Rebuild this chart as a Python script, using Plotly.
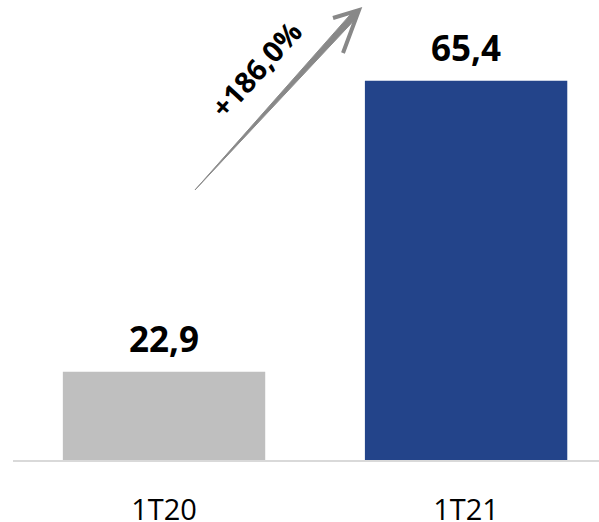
import plotly.graph_objects as go

# Quarterly values
periods = ["1T20", "1T21"]
values = [22.9, 65.4]
value_labels = ["22,9", "65,4"]
growth_label = "+186,0%"
bar_colors = ["#BFBFBF", "#23448A"]

W, H = 599, 522
M_L, M_R, M_T, M_B = 13, 0, 0, 62
PW, PH = W - M_L - M_R, H - M_T - M_B


def to_paper(px, py):
    """Convert a pixel position in the figure to paper coordinates."""
    return (px - M_L) / PW, (H - M_B - py) / PH


fig = go.Figure()
fig.add_trace(go.Bar(
    x=periods,
    y=values,
    marker=dict(color=bar_colors, line=dict(width=0)),
    width=0.67,
    hoverinfo="skip",
))

# Value labels above the bars
for p, v, t in zip(periods, values, value_labels):
    fig.add_annotation(
        x=p, y=v, xref="x", yref="y", text=f"<b>{t}</b>",
        showarrow=False, yanchor="bottom", yshift=8,
        font=dict(family="Open Sans", size=35, color="#000000"),
    )

# Growth arrow: tapered shaft plus an open head
tail = (195, 190)
tip = (359, 10)
dx, dy = tip[0] - tail[0], tip[1] - tail[1]
L = (dx ** 2 + dy ** 2) ** 0.5
ux, uy = dx / L, dy / L
nx, ny = -uy, ux
near = (tip[0] - 8 * ux, tip[1] - 8 * uy)
half = 3.4
shaft_pts = [
    tail,
    (near[0] + half * nx, near[1] + half * ny),
    tip,
    (near[0] - half * nx, near[1] - half * ny),
]
path = "M " + " L ".join(
    "{:.5f},{:.5f}".format(*to_paper(*p)) for p in shaft_pts) + " Z"
fig.add_shape(type="path", xref="paper", yref="paper", path=path,
              fillcolor="#888888", line=dict(color="#8C8C8C", width=1))

wing_a = (333, 18)
wing_b = (343, 53)
head = "M {:.5f},{:.5f} L {:.5f},{:.5f} L {:.5f},{:.5f}".format(
    *to_paper(*wing_a), *to_paper(*tip), *to_paper(*wing_b))
fig.add_shape(type="path", xref="paper", yref="paper", path=head,
              line=dict(color="#888888", width=4))

gx, gy = to_paper(255, 69)
fig.add_annotation(
    x=gx, y=gy, xref="paper", yref="paper", text=f"<b>{growth_label}</b>",
    showarrow=False, textangle=-47.7, xanchor="center", yanchor="middle",
    font=dict(family="Open Sans", size=29, color="#000000"),
)

fig.update_layout(
    width=W, height=H,
    margin=dict(l=M_L, r=M_R, t=M_T, b=M_B, autoexpand=False),
    paper_bgcolor="white", plot_bgcolor="white",
    showlegend=False,
    bargap=0.33,
    xaxis=dict(
        range=[-0.5, 1.44], showgrid=False, zeroline=False,
        showline=True, linecolor="#D9D9D9", linewidth=2,
        ticks="outside", ticklen=23, tickcolor="rgba(0,0,0,0)",
        tickfont=dict(family="Open Sans", size=29, color="#000000"),
        automargin=False, fixedrange=True,
    ),
    yaxis=dict(
        range=[10, 77.2], visible=False, showgrid=False, zeroline=False,
        automargin=False, fixedrange=True,
    ),
)

fig.write_html("out.html", config={"displayModeBar": False})
